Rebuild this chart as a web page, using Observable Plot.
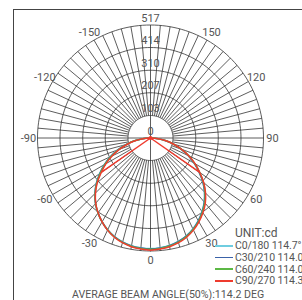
<!DOCTYPE html>
<html><head><meta charset="utf-8">
<script src="https://cdn.jsdelivr.net/npm/d3@7"></script>
<script src="https://cdn.jsdelivr.net/npm/@observablehq/plot@0.6"></script>
<style>
body{margin:0;background:#fff;}
#wrap{position:relative;width:302px;height:300px;overflow:hidden;font-family:Roboto,"Open Sans",sans-serif;color:#555;}
#frame{position:absolute;left:13px;top:9px;width:400px;height:400px;border-left:1px solid #444;border-top:1px solid #444;box-sizing:border-box;}
#chart{position:absolute;left:0;top:0;}
#legend{position:absolute;left:215px;top:226px;white-space:nowrap;}
#legend .unit{font-size:12px;margin-left:20px;line-height:14px;}
#legend .row{display:flex;align-items:center;height:11.7px;font-size:10.5px;letter-spacing:-0.1px;}
#legend .sw{width:18px;height:1.5px;margin-right:2px;}
#caption{position:absolute;left:72px;top:289px;font-size:10.6px;white-space:nowrap;line-height:12px;}
</style></head>
<body><div id="wrap"><div id="frame"></div><div id="chart"></div><div id="legend"></div><div id="caption"></div></div>
<script>
// Polar angles (deg, 0 = straight down)
const angles = [-90,-85,-80,-75,-70,-65,-60,-55,-50,-45,-40,-35,-30,-25,-20,-15,-10,-5,0,5,10,15,20,25,30,35,40,45,50,55,60,65,70,75,80,85,90];
// Luminous intensity (cd) per C-plane
const c0_180  = [0,38,78,118,160,203,245,284,324,360,392,419,443,463,480,492,500,504,506,504,499,490,477,459,437,411,382,349,312,270,230,190,148,108,70,33,0];
const c30_210 = [0,37,76,116,158,201,243,283,323,359,391,419,443,464,481,493,501,505,507,505,500,491,478,460,438,412,383,350,313,272,232,191,149,109,71,34,0];
const c60_240 = [0,36,74,113,155,198,240,280,321,358,391,419,443,464,482,494,503,507,509,507,502,493,480,462,440,414,386,353,316,275,234,193,150,110,72,35,0];
const c90_270 = [0,35,72,110,150,193,235,275,318,356,390,418,443,465,483,496,505,510,513,510,505,496,483,465,443,418,390,356,318,275,235,193,150,110,72,35,0];
const c90Chords = [-55, 55];
const seriesNames = ["C0/180","C30/210","C60/240","C90/270"];
const beamAngles = ["114.7°","114.0°","114.0°","114.3°"];
const seriesColors = ["#6fcde0","#3a62a8","#5cb845","#ee3b2e"];
const ringValues = [0,103,207,310,414,517];
const angleTicks = [0,30,60,90,120,150,-150,-120,-90,-60,-30];
const unitLabel = "UNIT:cd";
const captionText = "AVERAGE BEAM ANGLE(50%):114.2 DEG";

const rad = a => a*Math.PI/180;
const px = (a,v) => v*Math.sin(rad(a));
const py = (a,v) => -v*Math.cos(rad(a));
const maxV = ringValues[ringValues.length-1];

const seriesVals = [c0_180, c30_210, c60_240, c90_270];
const rows = [];
seriesNames.forEach((s,i)=> angles.forEach((a,j)=> rows.push({s, a, v: seriesVals[i][j]})));

// grid
const circlePts = [];
ringValues.slice(1).forEach(r => { for (let a=0; a<=360; a+=2) circlePts.push({r,a}); });
const spokes = d3.range(0,360,5).map(a => ({a, r0: (a%90===0)?0:ringValues[1]}));

const colorMap = Object.fromEntries(seriesNames.map((s,i)=>[s,seriesColors[i]]));
const chordRows = c90Chords.map(a => ({a, v: c90_270[angles.indexOf(a)]}));

const plot = Plot.plot({
  width:302, height:300,
  marginLeft:37, marginRight:39, marginTop:24.5, marginBottom:49.5,
  x:{domain:[-maxV,maxV], axis:null},
  y:{domain:[-maxV,maxV], axis:null},
  style:{fontFamily:"Roboto, 'Open Sans', sans-serif", background:"transparent"},
  marks:[
    Plot.line(circlePts, {x:d=>px(d.a,d.r), y:d=>py(d.a,d.r), z:"r", stroke:"#333", strokeWidth:0.8}),
    Plot.link(spokes, {x1:d=>px(d.a,d.r0), y1:d=>py(d.a,d.r0), x2:d=>px(d.a,maxV), y2:d=>py(d.a,maxV), stroke:"#333", strokeWidth:0.8}),
    Plot.text(ringValues, {x:0, y:d=>d, dy:-7, text:d=>String(d), fontSize:11, fill:"#555"}),
    Plot.text(angleTicks, {x:d=>px(d, maxV*122/113), y:d=>py(d, maxV*122/113), text:d=>String(d), fontSize:11, fill:"#555"}),
    ...seriesNames.map(s => Plot.line(rows.filter(r=>r.s===s), {x:d=>px(d.a,d.v), y:d=>py(d.a,d.v), stroke:colorMap[s], strokeWidth:1.5, curve:"catmull-rom"})),
    Plot.link(chordRows, {x1:0, y1:0, x2:d=>px(d.a,d.v), y2:d=>py(d.a,d.v), stroke:colorMap["C90/270"], strokeWidth:1.5}),
    Plot.dot([0], {x:0, y:0, r:2, fill:colorMap["C90/270"]})
  ]
});
document.getElementById("chart").appendChild(plot);

const lg = document.getElementById("legend");
lg.innerHTML = `<div class="unit">${unitLabel}</div>` + seriesNames.map((s,i)=>
  `<div class="row"><div class="sw" style="background:${seriesColors[i]}"></div><span>${s} ${beamAngles[i]}</span></div>`).join("");
document.getElementById("caption").textContent = captionText;
</script></body></html>
